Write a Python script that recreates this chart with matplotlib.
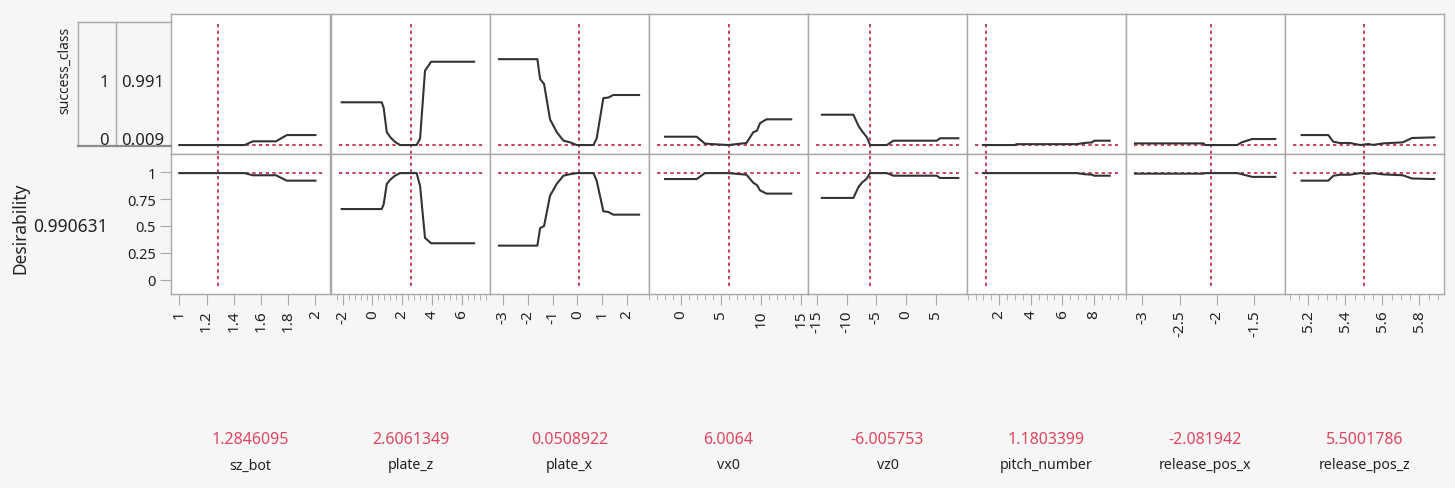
import matplotlib
matplotlib.use("Agg")
import matplotlib.pyplot as plt
from matplotlib.lines import Line2D
from matplotlib.ticker import MultipleLocator

plt.rcParams["font.family"] = ["Noto Sans", "DejaVu Sans"]

# factors, current settings and axis ticks
factors = ["sz_bot", "plate_z", "plate_x", "vx0", "vz0",
           "pitch_number", "release_pos_x", "release_pos_z"]
current = [1.2846095, 2.6061349, 0.0508922, 6.0064, -6.005753,
           1.1803399, -2.081942, 5.5001786]
ticks = [
    [1, 1.2, 1.4, 1.6, 1.8, 2],
    [-2, 0, 2, 4, 6],
    [-3, -2, -1, 0, 1, 2],
    [0, 5, 10, 15],
    [-15, -10, -5, 0, 5],
    [2, 4, 6, 8],
    [-3, -2.5, -2, -1.5],
    [5.2, 5.4, 5.6, 5.8],
]
minor_step = [None, 0.4, None, 1, None, 0.5, None, 0.05]

# profile traces: x, P(success_class = 0), desirability
sz_bot_x = [1.0, 1.48, 1.54, 1.71, 1.79, 2.0]
sz_bot_p0 = [0.009, 0.009, 0.038, 0.038, 0.087, 0.087]
sz_bot_des = [0.99, 0.99, 0.97, 0.97, 0.92, 0.92]

plate_z_x = [-2.07, 0.62, 0.75, 0.96, 1.2, 1.5, 1.85, 2.97, 3.2, 3.53, 3.94, 6.83]
plate_z_p0 = [0.343, 0.343, 0.30, 0.11, 0.07, 0.035, 0.009, 0.009, 0.06, 0.59, 0.66, 0.66]
plate_z_des = [0.657, 0.657, 0.70, 0.89, 0.93, 0.965, 0.99, 0.99, 0.87, 0.39, 0.34, 0.34]

plate_x_x = [-3.16, -1.61, -1.50, -1.34, -1.10, -0.83, -0.56, -0.29, -0.02,
             0.65, 0.78, 1.05, 1.25, 1.45, 2.49]
plate_x_p0 = [0.68, 0.68, 0.525, 0.486, 0.21, 0.11, 0.043, 0.03, 0.009,
              0.009, 0.06, 0.376, 0.38, 0.40, 0.40]
plate_x_des = [0.318, 0.318, 0.48, 0.50, 0.78, 0.89, 0.966, 0.98, 0.99,
               0.99, 0.92, 0.636, 0.63, 0.605, 0.605]

vx0_x = [-2.0, 1.97, 3.0, 5.9, 8.2, 9.06, 9.5, 9.9, 10.7, 13.8]
vx0_p0 = [0.074, 0.074, 0.02, 0.009, 0.025, 0.11, 0.12, 0.18, 0.21, 0.21]
vx0_des = [0.935, 0.935, 0.99, 0.99, 0.975, 0.90, 0.88, 0.83, 0.80, 0.80]

vz0_x = [-14.17, -8.86, -8.02, -7.45, -6.6, -6.05, -3.24, -2.13, 5.16, 5.71, 8.79]
vz0_p0 = [0.246, 0.246, 0.16, 0.12, 0.07, 0.009, 0.009, 0.043, 0.043, 0.062, 0.062]
vz0_des = [0.76, 0.76, 0.86, 0.90, 0.94, 0.99, 0.99, 0.966, 0.966, 0.945, 0.945]

pitch_number_x = [1, 3.0, 3.1, 6.9, 7.4, 7.9, 8.0, 9.0]
pitch_number_p0 = [0.009, 0.009, 0.016, 0.016, 0.025, 0.03, 0.043, 0.043]
pitch_number_des = [0.99, 0.99, 0.99, 0.99, 0.98, 0.975, 0.966, 0.966]

release_pos_x_x = [-3.10, -2.18, -2.16, -1.73, -1.67, -1.53, -1.22]
release_pos_x_p0 = [0.022, 0.022, 0.009, 0.009, 0.03, 0.056, 0.056]
release_pos_x_des = [0.985, 0.985, 0.99, 0.99, 0.98, 0.955, 0.955]

release_pos_z_x = [5.164, 5.308, 5.335, 5.37, 5.425, 5.48, 5.524, 5.55,
                   5.605, 5.71, 5.76, 5.88]
release_pos_z_p0 = [0.087, 0.087, 0.035, 0.025, 0.025, 0.009, 0.017, 0.01,
                    0.022, 0.03, 0.064, 0.069]
release_pos_z_des = [0.92, 0.92, 0.965, 0.975, 0.975, 0.99, 0.983, 0.99,
                     0.978, 0.97, 0.94, 0.935]

traces = [
    (sz_bot_x, sz_bot_p0, sz_bot_des),
    (plate_z_x, plate_z_p0, plate_z_des),
    (plate_x_x, plate_x_p0, plate_x_des),
    (vx0_x, vx0_p0, vx0_des),
    (vz0_x, vz0_p0, vz0_des),
    (pitch_number_x, pitch_number_p0, pitch_number_des),
    (release_pos_x_x, release_pos_x_p0, release_pos_x_des),
    (release_pos_z_x, release_pos_z_p0, release_pos_z_des),
]
current_p0 = 0.009
current_des = 0.990631
des_ticks = [0, 0.25, 0.5, 0.75, 1]

x_limits = [(0.939, 2.107), (-2.79, 7.9), (-3.52, 2.89), (-4.0, 15.9),
            (-16.5, 10.25), (-0.04, 10.03), (-3.22, -1.09), (5.074, 5.933)]

W, H = 1455, 489
BG = "#f6f6f6"
FRAME = "#a8a8a8"
RED = "#c0213f"
RED_TXT = "#e0475f"
INK = "#222222"


def px_box(x0, y0, x1, y1):
    return [x0 / W, 1 - y1 / H, (x1 - x0) / W, (y1 - y0) / H]


def fig_line(fig, xs, ys, color=FRAME, lw=1.0):
    fig.add_artist(Line2D([x / W for x in xs], [1 - y / H for y in ys],
                          transform=fig.transFigure, color=color, lw=lw))


fig = plt.figure(figsize=(14.55, 4.89), dpi=100, facecolor=BG)

lefts = [171, 331, 490, 649, 808, 967, 1126, 1285]
pw = 159
dots = (0, (2, 2))

for i, name in enumerate(factors):
    x, p0, des = traces[i]
    left = lefts[i]
    ax_t = fig.add_axes(px_box(left, 15, left + pw, 155))
    ax_b = fig.add_axes(px_box(left, 155, left + pw, 295))

    for ax in (ax_t, ax_b):
        ax.set_facecolor("white")
        ax.set_xlim(*x_limits[i])
        for s in ax.spines.values():
            s.set_color(FRAME)
            s.set_linewidth(1.0)
        ax.axvline(current[i], color=RED, lw=1.2, ls=dots,
                   ymin=0.06 if ax is ax_b else 0.0,
                   ymax=1.0 if ax is ax_b else 0.94)

    ax_t.set_ylim(-0.061, 1.033)
    ax_t.axhline(current_p0, color=RED, lw=1.2, ls=dots, xmin=0.05, xmax=0.95)
    ax_t.plot(x, p0, color="#333333", lw=1.5)
    ax_t.set_xticks([])
    ax_t.set_yticks([])

    ax_b.set_ylim(-0.13, 1.167)
    ax_b.axhline(0.99, color=RED, lw=1.2, ls=dots, xmin=0.05, xmax=0.95)
    ax_b.plot(x, des, color="#333333", lw=1.5)
    ax_b.set_xticks(ticks[i])
    ax_b.set_xticklabels(["{:g}".format(t) for t in ticks[i]], rotation=90)
    if minor_step[i]:
        ax_b.xaxis.set_minor_locator(MultipleLocator(minor_step[i]))
    ax_b.tick_params(axis="x", which="major", length=8, color=FRAME,
                     labelsize=11, labelcolor=INK, pad=3)
    ax_b.tick_params(axis="x", which="minor", length=4, color=FRAME)
    if i == 0:
        ax_b.set_yticks(des_ticks)
        ax_b.set_yticklabels(["{:g}".format(t) for t in des_ticks])
        ax_b.tick_params(axis="y", length=8, color=FRAME, labelsize=10.5,
                         labelcolor=INK, pad=3)
    else:
        ax_b.set_yticks([])

    cx = (left + left + pw) / 2 / W
    fig.text(cx, 1 - 440 / H, str(current[i]), color=RED_TXT, fontsize=11.5,
             ha="center", va="center")
    fig.text(cx, 1 - 466 / H, name, color=INK, fontsize=10.2,
             ha="center", va="center")

# response label box on the left
fig_line(fig, [78, 78], [23, 147])
fig_line(fig, [78, 171], [23, 23])
fig_line(fig, [116, 116], [23, 147])
fig_line(fig, [78, 171], [147, 147], color="#8c8c8c", lw=1.6)

fig.text(65 / W, 1 - 70 / H, "success_class", rotation=90, fontsize=10,
         ha="center", va="center", color=INK)
fig.text(109 / W, 1 - 83 / H, "1", fontsize=12, ha="right", va="center", color=INK)
fig.text(121 / W, 1 - 83 / H, "{:.3f}".format(1 - current_p0), fontsize=12,
         ha="left", va="center", color=INK)
fig.text(109 / W, 1 - 141 / H, "0", fontsize=12, ha="right", va="center", color=INK)
fig.text(121 / W, 1 - 141 / H, "{:.3f}".format(current_p0), fontsize=12,
         ha="left", va="center", color=INK)

fig.text(20 / W, 1 - 228 / H, "Desirability", rotation=90, fontsize=12.5,
         ha="center", va="center", color=INK)
fig.text(33 / W, 1 - 227 / H, str(current_des), fontsize=12.5,
         ha="left", va="center", color=INK)

fig.savefig("out.png", dpi=100, facecolor=BG)
